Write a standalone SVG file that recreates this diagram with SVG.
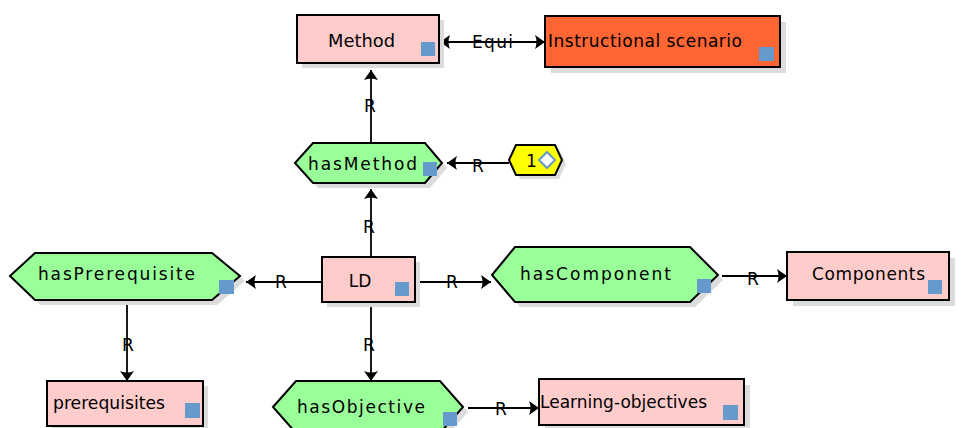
<svg xmlns="http://www.w3.org/2000/svg" width="964" height="428" viewBox="0 0 964 428">
<defs>
<style>
.box{stroke:#000;stroke-width:2}
.pink{fill:#ffcccc}
.orange{fill:#ff6633}
.green{fill:#99ff99}
.yellow{fill:#ffff00}
.shadow{fill:#dcdcdc;stroke:none}
.sq{fill:#6699cc}
.t{font-family:"DejaVu Sans","Liberation Sans",sans-serif;font-size:17px;fill:#000}
.lbl{font-family:"DejaVu Sans","Liberation Sans",sans-serif;font-size:17px;fill:#000;text-anchor:middle}
.con{stroke:#000;stroke-width:1.8;fill:none}
.arr{marker-end:url(#ah)}
</style>
<marker id="ah" markerUnits="userSpaceOnUse" markerWidth="11" markerHeight="14" refX="10" refY="7" orient="auto-start-reverse" viewBox="0 0 11 14">
<path d="M0,0 L10,7 L0,14 Q3,7 0,0 z" fill="#000"/>
</marker>
</defs>

<g id="connectors">
<line class="con" x1="440" y1="42" x2="545" y2="42" marker-start="url(#ah)" marker-end="url(#ah)"/>
<text class="t" x="472" y="48" textLength="41" lengthAdjust="spacing">Equi</text>
<line class="con arr" x1="371" y1="144" x2="371" y2="70"/>
<text class="lbl" x="370" y="112">R</text>
<line class="con arr" x1="509" y1="163" x2="447" y2="163"/>
<text class="lbl" x="478" y="172">R</text>
<line class="con arr" x1="371" y1="257" x2="371" y2="189"/>
<text class="lbl" x="369" y="233">R</text>
<line class="con arr" x1="322" y1="282" x2="246" y2="282"/>
<text class="lbl" x="281" y="288">R</text>
<line class="con arr" x1="416" y1="282" x2="491" y2="282"/>
<text class="lbl" x="452" y="288">R</text>
<line class="con arr" x1="722" y1="276" x2="787" y2="276"/>
<text class="lbl" x="753" y="285">R</text>
<line class="con arr" x1="127" y1="301" x2="127" y2="381"/>
<text class="lbl" x="128" y="351">R</text>
<line class="con arr" x1="371" y1="303" x2="371" y2="381"/>
<text class="lbl" x="369" y="351">R</text>
<line class="con arr" x1="468" y1="408" x2="539" y2="408"/>
<text class="lbl" x="501" y="415">R</text>
</g>

<g id="method">
<rect class="shadow" x="302" y="20" width="142" height="48"/>
<rect class="box pink" x="297" y="15" width="142" height="48"/>
<rect class="sq" x="421" y="42" width="14" height="14"/>
<text class="t" x="328" y="47" textLength="67" lengthAdjust="spacingAndGlyphs">Method</text>
</g>

<g id="instructional-scenario">
<rect class="shadow" x="551" y="22" width="235" height="51"/>
<rect class="box orange" x="545" y="16" width="235" height="51"/>
<rect class="sq" x="759" y="47" width="15" height="14"/>
<text class="t" x="548" y="47" textLength="194" lengthAdjust="spacing">Instructional scenario</text>
</g>

<g id="hasMethod">
<polygon class="shadow" points="300,168 318,148 430,148 447,168 430,188 318,188"/>
<polygon class="box green" points="295,163 313,143 425,143 442,163 425,183 313,183"/>
<rect class="sq" x="423" y="162" width="14" height="14"/>
<text class="t" x="308" y="170" textLength="109" lengthAdjust="spacing">hasMethod</text>
</g>

<g id="card-1">
<polygon class="shadow" points="513,164 520,149 559,149 566,164 559,179 520,179"/>
<polygon class="box yellow" points="509,160 516,145 555,145 562,160 555,175 516,175"/>
<text class="t" x="526" y="167">1</text>
<polygon points="547,152 555,160 547,168 539,160" fill="#fff" stroke="#6699cc" stroke-width="2"/>
</g>

<g id="LD">
<rect class="shadow" x="327" y="262" width="93" height="45"/>
<rect class="box pink" x="322" y="257" width="93" height="45"/>
<rect class="sq" x="395" y="282" width="14" height="14"/>
<text class="t" x="360" y="287" text-anchor="middle">LD</text>
</g>

<g id="hasPrerequisite">
<polygon class="shadow" points="15,281 40,258 217,258 245,281 217,305 40,305"/>
<polygon class="box green" points="10,276 35,253 212,253 240,276 212,300 35,300"/>
<rect class="sq" x="219" y="280" width="15" height="14"/>
<text class="t" x="38" y="280" textLength="157" lengthAdjust="spacing">hasPrerequisite</text>
</g>

<g id="hasComponent">
<polygon class="shadow" points="497,280 520,252 695,252 723,280 695,307 520,307"/>
<polygon class="box green" points="492,275 515,247 690,247 718,275 690,302 515,302"/>
<rect class="sq" x="697" y="279" width="14" height="14"/>
<text class="t" x="520" y="280" textLength="151" lengthAdjust="spacing">hasComponent</text>
</g>

<g id="components">
<rect class="shadow" x="793" y="258" width="162" height="48"/>
<rect class="box pink" x="787" y="252" width="162" height="48"/>
<rect class="sq" x="928" y="280" width="14" height="14"/>
<text class="t" x="812" y="280" textLength="113" lengthAdjust="spacing">Components</text>
</g>

<g id="prerequisites">
<rect class="shadow" x="52" y="386" width="156" height="45"/>
<rect class="box pink" x="47" y="381" width="156" height="45"/>
<rect class="sq" x="185" y="403" width="15" height="15"/>
<text class="t" x="53" y="409" textLength="112" lengthAdjust="spacingAndGlyphs">prerequisites</text>
</g>

<g id="hasObjective">
<polygon class="shadow" points="278,412 301,386 445,386 468,412 445,438 301,438"/>
<polygon class="box green" points="273,407 296,381 440,381 463,407 440,433 296,433"/>
<rect class="sq" x="443" y="412" width="14" height="14"/>
<text class="t" x="297" y="413" textLength="128" lengthAdjust="spacing">hasObjective</text>
</g>

<g id="learning-objectives">
<rect class="shadow" x="545" y="385" width="205" height="46"/>
<rect class="box pink" x="539" y="379" width="205" height="46"/>
<rect class="sq" x="723" y="405" width="15" height="15"/>
<text class="t" x="540" y="408" textLength="167" lengthAdjust="spacing">Learning-objectives</text>
</g>
</svg>
